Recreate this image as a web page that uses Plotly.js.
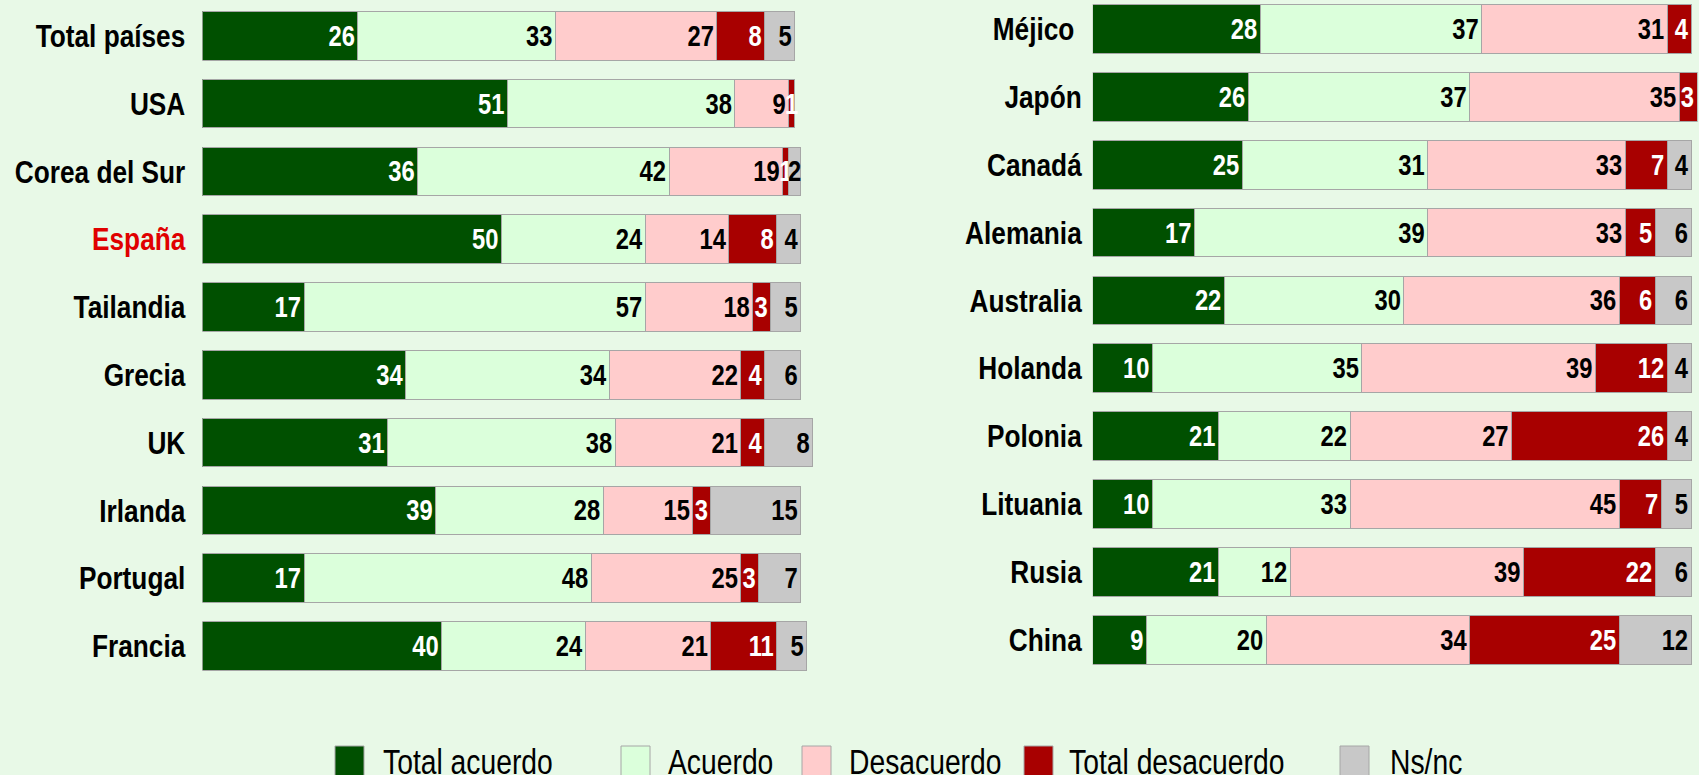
<!DOCTYPE html>
<html>
<head>
<meta charset="utf-8">
<script src="https://cdn.plot.ly/plotly-3.0.1.min.js"></script>
<style>
html,body{margin:0;padding:0;background:#e8f9e7;}
#chart{width:1699px;height:775px;}
</style>
</head>
<body>
<div id="chart"></div>
<script>
// ---- data ----
var seriesNames = ["Total acuerdo", "Acuerdo", "Desacuerdo", "Total desacuerdo", "Ns/nc"];

var leftCountries = ["Total países", "USA", "Corea del Sur", "España", "Tailandia", "Grecia", "UK", "Irlanda", "Portugal", "Francia"];
var leftTotalAcuerdo    = [26, 51, 36, 50, 17, 34, 31, 39, 17, 40];
var leftAcuerdo         = [33, 38, 42, 24, 57, 34, 38, 28, 48, 24];
var leftDesacuerdo      = [27,  9, 19, 14, 18, 22, 21, 15, 25, 21];
var leftTotalDesacuerdo = [ 8,  1,  1,  8,  3,  4,  4,  3,  3, 11];
var leftNsnc            = [ 5, null, 2, 4,  5,  6,  8, 15,  7,  5];

var rightCountries = ["Méjico", "Japón", "Canadá", "Alemania", "Australia", "Holanda", "Polonia", "Lituania", "Rusia", "China"];
var rightTotalAcuerdo    = [28, 26, 25, 17, 22, 10, 21, 10, 21,  9];
var rightAcuerdo         = [37, 37, 31, 39, 30, 35, 22, 33, 12, 20];
var rightDesacuerdo      = [31, 35, 33, 33, 36, 39, 27, 45, 39, 34];
var rightTotalDesacuerdo = [ 4,  3,  7,  5,  6, 12, 26,  7, 22, 25];
var rightNsnc            = [null, null, 4, 6, 6,  4,  4,  5,  6, 12];

// ---- styles ----
var FONT = "'Liberation Sans', Arial, sans-serif";
var SQUEEZE = 0.82; // narrow the Arial-like glyphs (Arial Narrow look)
var colors = ["#005000", "#dbffdb", "#ffcccc", "#a80000", "#c8c8c8"];
var textColors = ["#ffffff", "#000000", "#000000", "#ffffff", "#000000"];
var BG = "#e8f9e7";
var BAR_W = 0.717;
var UNIT = 5.984; // px per percentage point

var leftSeries = [leftTotalAcuerdo, leftAcuerdo, leftDesacuerdo, leftTotalDesacuerdo, leftNsnc];
var rightSeries = [rightTotalAcuerdo, rightAcuerdo, rightDesacuerdo, rightTotalDesacuerdo, rightNsnc];

function makeTrace(vals, cats, i, xa, ya) {
  return {
    type: "bar",
    orientation: "h",
    name: seriesNames[i],
    x: vals,
    y: cats,
    xaxis: xa,
    yaxis: ya,
    width: BAR_W,
    marker: { color: colors[i], line: { color: "#a6a6a6", width: 1 } },
    text: vals.map(function (v) { return v === null ? "" : String(v); }),
    textposition: "inside",
    insidetextanchor: "end",
    constraintext: "none",
    cliponaxis: false,
    textfont: { family: FONT, size: 29, color: textColors[i], weight: "bold" },
    showlegend: false,
    hoverinfo: "skip"
  };
}

var data = [];
for (var i = 0; i < 5; i++) data.push(makeTrace(leftSeries[i], leftCountries, i, "x", "y"));
for (var j = 0; j < 5; j++) data.push(makeTrace(rightSeries[j], rightCountries, j, "x2", "y2"));

var leftTickText = leftCountries.map(function (c) {
  return c === "España" ? "<span style='color:#e00000'>" + c + "</span>" : c;
});
var rightTickText = rightCountries.map(function (c) {
  return c === "Méjico" ? c + "\u00a0" : c;
});

var W = 1699, H = 775;
function px(x) { return x / W; }
function py(y) { return (H - y) / H; }

var LEFT_X0 = 202.3, RIGHT_X0 = 1092.7;
var LEFT_MAX = 103, RIGHT_MAX = 101.1;

// legend drawn from series names/colours
var legendSwatchX = [335, 621, 802, 1024, 1340];
var legendTextX = [383, 668, 849, 1069, 1390];
var shapes = [], annotations = [];
for (var k = 0; k < 5; k++) {
  shapes.push({
    type: "rect", xref: "paper", yref: "paper",
    x0: px(legendSwatchX[k]), x1: px(legendSwatchX[k] + 29),
    y0: py(746), y1: py(790),
    fillcolor: colors[k], line: { color: "#a6a6a6", width: 1 }
  });
  annotations.push({
    xref: "paper", yref: "paper",
    x: px(legendTextX[k] - 2), y: py(740.5),
    xanchor: "left", yanchor: "top",
    text: seriesNames[k], showarrow: false,
    font: { family: FONT, size: 34.5, color: "#000000" }
  });
}

var layout = {
  width: W, height: H,
  margin: { l: 0, r: 0, t: 0, b: 0, pad: 0 },
  paper_bgcolor: BG,
  plot_bgcolor: BG,
  barmode: "stack",
  bargap: 0,
  showlegend: false,
  hovermode: false,
  xaxis: { domain: [px(LEFT_X0), px(LEFT_X0 + LEFT_MAX * UNIT)], range: [0, LEFT_MAX], visible: false, fixedrange: true },
  yaxis: {
    domain: [py(679.9), py(1.8)], range: [9.5, -0.5],
    type: "category", tickmode: "array", tickvals: leftCountries, ticktext: leftTickText,
    showgrid: false, zeroline: false, showline: false, ticks: "",
    ticklabelstandoff: 16,
    tickfont: { family: FONT, size: 32, color: "#000000", weight: "bold" }
  },
  xaxis2: { domain: [px(RIGHT_X0), px(RIGHT_X0 + RIGHT_MAX * UNIT)], range: [0, RIGHT_MAX], visible: false, fixedrange: true },
  yaxis2: {
    anchor: "x2",
    domain: [py(679.9), 1], range: [9.592, -0.4273],
    type: "category", tickmode: "array", tickvals: rightCountries, ticktext: rightTickText,
    showgrid: false, zeroline: false, showline: false, ticks: "",
    ticklabelstandoff: 10,
    tickfont: { family: FONT, size: 32, color: "#000000", weight: "bold" }
  },
  shapes: shapes,
  annotations: annotations
};

function squeeze(root, selector, s, side) {
  root.querySelectorAll(selector).forEach(function (t) {
    var bb = t.getBBox();
    var cx = side === "right" ? bb.x + bb.width : bb.x;
    var cy = bb.y + bb.height / 2;
    var tr = t.getAttribute("transform") || "";
    t.setAttribute("transform", tr + " translate(" + cx + "," + cy + ") scale(" + s + ",1) translate(" + (-cx) + "," + (-cy) + ")");
  });
}

// labels wider than their segment: centre them on the segment, and keep all labels above the bars
function fixBarText(root) {
  root.querySelectorAll("g.point").forEach(function (pt) {
    var t = pt.querySelector("text.bartext");
    var p = pt.querySelector("path");
    if (!t || !p) return;
    var tb = t.getBoundingClientRect(), pb = p.getBoundingClientRect();
    if (tb.width > pb.width - 4) {
      var dx = (pb.left + pb.width / 2) - (tb.left + tb.width / 2);
      var tr = t.getAttribute("transform") || "";
      t.setAttribute("transform", "translate(" + dx + ",0) " + tr);
    }
  });
  root.querySelectorAll("g.barlayer").forEach(function (layer) {
    var top = document.createElementNS("http://www.w3.org/2000/svg", "g");
    layer.querySelectorAll("text.bartext").forEach(function (t) { top.appendChild(t); });
    layer.appendChild(top);
  });
}

Plotly.newPlot("chart", data, layout, { staticPlot: true, displayModeBar: false }).then(function (gd) {
  squeeze(gd, "text.bartext", SQUEEZE, "right");
  squeeze(gd, "g.ytick text, g.y2tick text", SQUEEZE, "right");
  squeeze(gd, "g.annotation text", SQUEEZE, "left");
  fixBarText(gd);
});
</script>
</body>
</html>
